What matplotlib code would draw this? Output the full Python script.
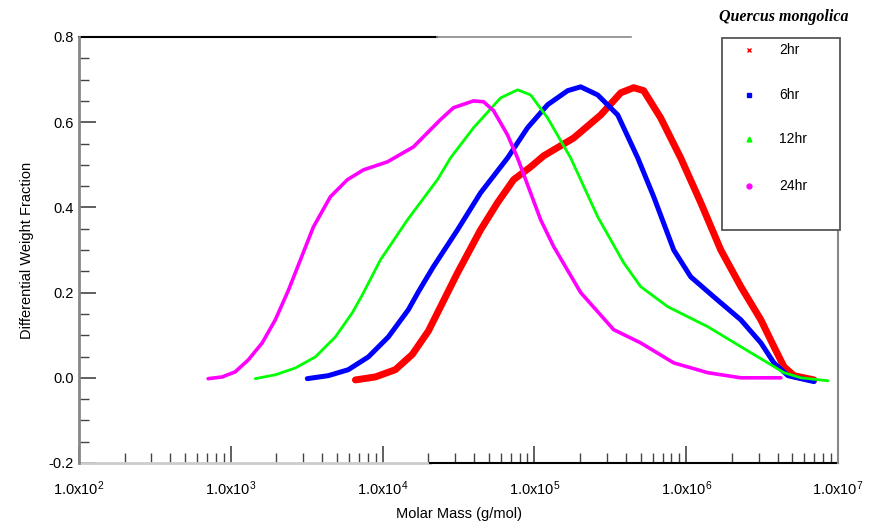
import matplotlib
matplotlib.use('Agg')
import matplotlib.pyplot as plt
from matplotlib.patches import Rectangle
from matplotlib.ticker import FixedLocator, LogLocator, NullFormatter, MultipleLocator
import numpy as np

plt.rcParams['font.family'] = ['Liberation Sans', 'DejaVu Sans']

# log10 of molar mass (g/mol) and differential weight fraction
logm_24 = [2.851, 2.943, 3.029, 3.115, 3.207, 3.293, 3.379, 3.544, 3.656, 3.768,
           3.873, 4.032, 4.203, 4.381, 4.467, 4.599, 4.665, 4.731, 4.823, 4.889, 5.041,
           5.127, 5.305, 5.522, 5.700, 5.918, 6.142, 6.360, 6.624]
dwf_24 = [-0.002, 0.002, 0.014, 0.042, 0.082, 0.136, 0.205, 0.354, 0.425, 0.465,
          0.488, 0.507, 0.542, 0.606, 0.634, 0.650, 0.648, 0.627, 0.570, 0.516, 0.371,
          0.308, 0.200, 0.113, 0.082, 0.035, 0.012, 0.0, 0.0]

logm_12 = [3.161, 3.293, 3.425, 3.557, 3.689, 3.801, 3.867, 3.986, 4.164, 4.361, 4.447,
           4.599, 4.777, 4.889, 4.975, 5.087, 5.239, 5.417, 5.588, 5.700, 5.878, 6.142,
           6.360, 6.538, 6.644, 6.756, 6.934]
dwf_12 = [-0.002, 0.007, 0.023, 0.049, 0.096, 0.153, 0.195, 0.277, 0.371, 0.465, 0.516,
          0.587, 0.657, 0.676, 0.664, 0.610, 0.516, 0.378, 0.270, 0.214, 0.167, 0.120,
          0.073, 0.035, 0.012, 0.0, -0.007]

logm_6 = [3.504, 3.642, 3.774, 3.906, 4.038, 4.170, 4.236, 4.335, 4.493, 4.645, 4.823,
          4.955, 5.087, 5.219, 5.305, 5.417, 5.549, 5.681, 5.786, 5.918, 6.030, 6.182,
          6.360, 6.492, 6.578, 6.670, 6.842]
dwf_6 = [-0.002, 0.005, 0.019, 0.049, 0.096, 0.160, 0.202, 0.261, 0.347, 0.434, 0.516,
         0.587, 0.641, 0.674, 0.683, 0.664, 0.617, 0.516, 0.425, 0.300, 0.237, 0.190,
         0.136, 0.082, 0.035, 0.005, -0.009]

logm_2 = [3.821, 3.952, 4.084, 4.196, 4.302, 4.493, 4.645, 4.757, 4.863, 4.975,
          5.061, 5.259, 5.437, 5.569, 5.654, 5.720, 5.832, 5.964, 6.096, 6.228, 6.360,
          6.492, 6.578, 6.644, 6.710, 6.842]
dwf_2 = [-0.005, 0.002, 0.019, 0.055, 0.110, 0.246, 0.347, 0.411, 0.465, 0.495,
         0.521, 0.563, 0.617, 0.669, 0.681, 0.674, 0.610, 0.516, 0.411, 0.300, 0.214,
         0.136, 0.073, 0.026, 0.005, -0.005]

labels = ['2hr', '6hr', '12hr', '24hr']
colors = ['#ff0000', '#0000ff', '#00ff00', '#ff00ff']
markers = ['x', 's', '^', 'o']
widths = [5.0, 3.6, 2.0, 2.6]
xticks = [1e2, 1e3, 1e4, 1e5, 1e6, 1e7]
xticklabels = [r'$\mathregular{1.0x10^{%d}}$' % k for k in range(2, 8)]

fig = plt.figure(figsize=(8.73, 5.26), dpi=100)
ax = fig.add_axes([79/873, 1-463/526, 759/873, 426/526])

series = [(logm_2, dwf_2), (logm_6, dwf_6), (logm_12, dwf_12), (logm_24, dwf_24)]
for (lm, d), c, w in zip(series, colors, widths):
    ax.plot(10**np.array(lm), d, color=c, lw=w, solid_capstyle='round', solid_joinstyle='round')

ax.set_xscale('log')
ax.set_xlim(1e2, 1e7)
ax.set_ylim(-0.2, 0.8)
ax.xaxis.set_major_locator(FixedLocator(xticks))
ax.set_xticklabels(xticklabels, fontsize=10.5)
ax.xaxis.set_minor_locator(LogLocator(base=10, subs=np.arange(2, 10)))
ax.xaxis.set_minor_formatter(NullFormatter())
ax.yaxis.set_minor_locator(MultipleLocator(0.05))
ax.set_yticks([-0.2, 0.0, 0.2, 0.4, 0.6, 0.8])
ax.set_yticklabels(['-0.2', '0.0', '0.2', '0.4', '0.6', '0.8'], fontsize=10.5)
ax.tick_params(which='major', direction='in', length=12, width=1.2, color='#444444')
ax.tick_params(which='minor', direction='in', length=7, width=1.0, color='#444444')
ax.tick_params(axis='x', which='major', pad=12)
ax.tick_params(axis='y', which='major', pad=4)

for s in ['top', 'right', 'bottom']:
    ax.spines[s].set_visible(False)
ax.spines['left'].set_color('#888888')
ax.spines['left'].set_linewidth(2)

# the partly drawn frame of the original
ax.plot([0, 0.463], [0, 0], color='#cccccc', lw=2, transform=ax.transAxes, clip_on=False)
ax.plot([0.463, 1.0], [0, 0], color='black', lw=1.5, transform=ax.transAxes, clip_on=False)
ax.plot([0, 0.472], [1, 1], color='black', lw=1.5, transform=ax.transAxes, clip_on=False)
ax.plot([0.472, 0.727], [1, 1], color='#888888', lw=1.2, transform=ax.transAxes, clip_on=False)
ax.plot([1.0, 1.0], [0, 0.55], color='#888888', lw=1.5, transform=ax.transAxes, clip_on=False)

ax.set_xlabel('Molar Mass (g/mol)', fontsize=10.5, labelpad=6)
ax.set_ylabel('Differential Weight Fraction', fontsize=10.5, labelpad=10)

# legend box
fig.patches.append(Rectangle((722/873, 1-230/526), 118/873, 192/526, transform=fig.transFigure,
                             facecolor='white', edgecolor='#555555', lw=1.3))
legend_y = [50, 95, 139, 186]
for lab, c, m, yy in zip(labels, colors, markers, legend_y):
    fig.lines.append(plt.Line2D([749/873], [1-yy/526], transform=fig.transFigure, marker=m,
                                color=c, markersize=3.5, lw=0))
    fig.text(779/873, 1-yy/526, lab, fontsize=10, va='center', ha='left')

fig.text(784/873, 1-17/526, 'Quercus mongolica', fontsize=11.5, style='italic', weight='bold',
         family='Liberation Serif', ha='center', va='center')

fig.savefig('out.png', dpi=100)
